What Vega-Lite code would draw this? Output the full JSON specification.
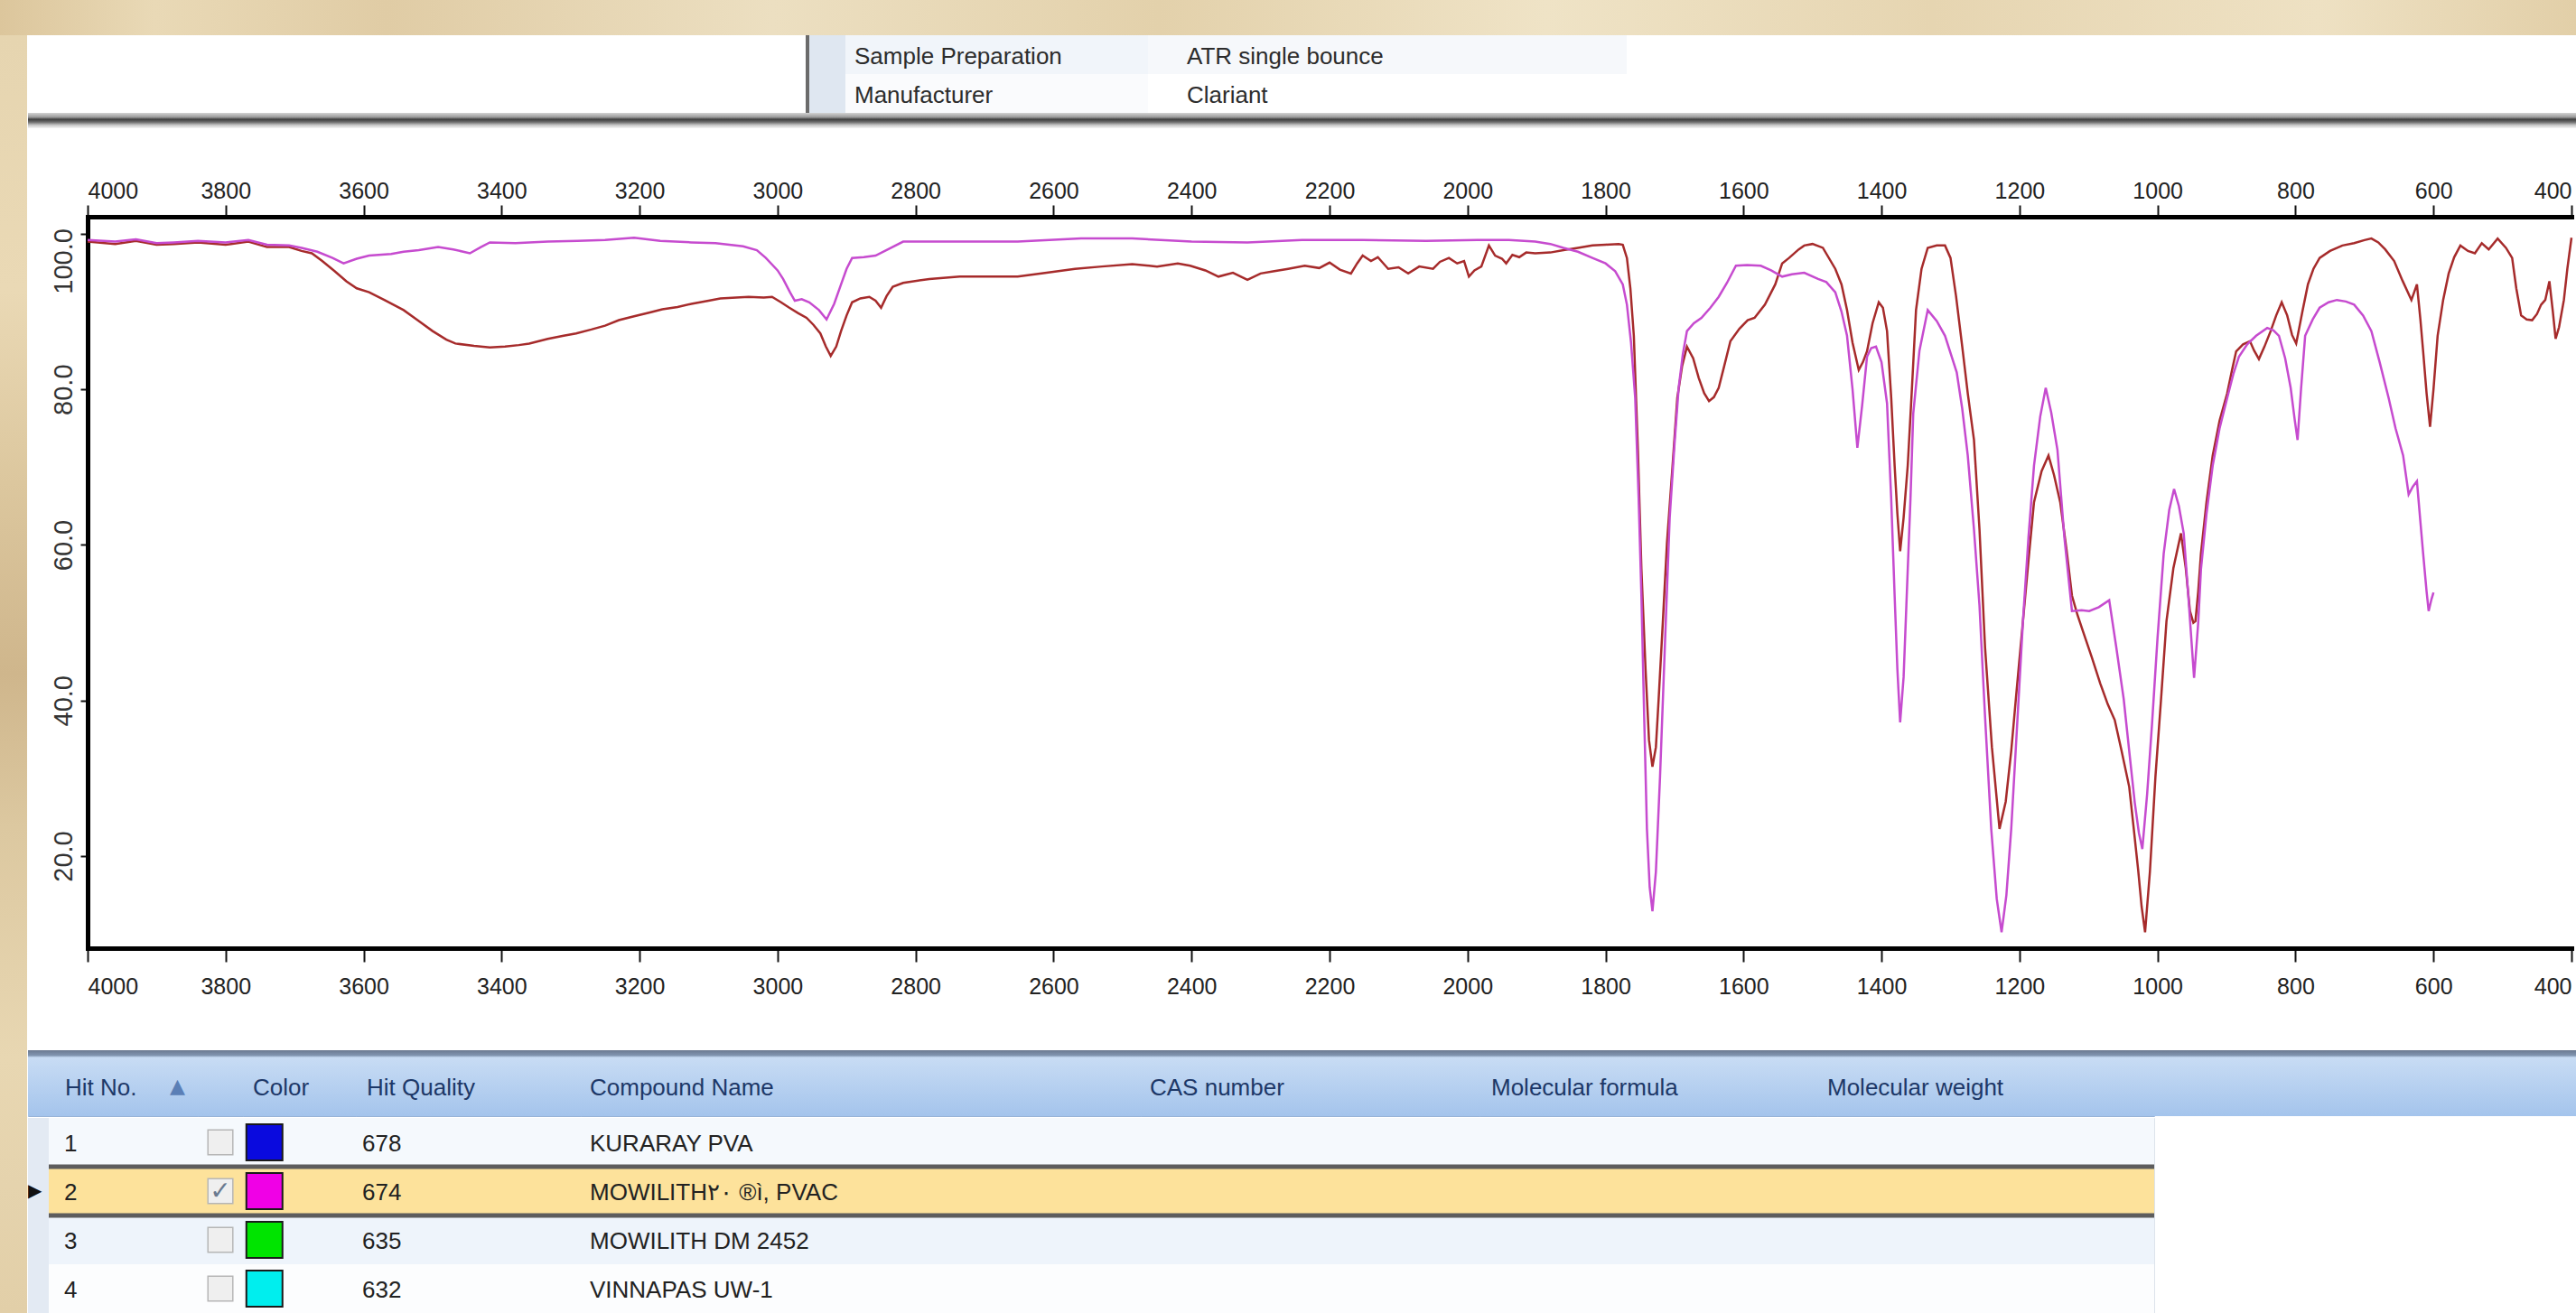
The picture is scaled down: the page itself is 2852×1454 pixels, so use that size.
{
"$schema": "https://vega.github.io/schema/vega-lite/v6.json",
"background": "#ffffff",
"padding": 0,
"config": {"view": {"stroke": null}, "font": "Liberation Sans", "text": {"font": "Liberation Sans"}},
"datasets": {
"hits": [
{"hit": 1, "no": "1", "quality": "678", "name": "KURARAY PVA"},
{"hit": 2, "no": "2", "quality": "674", "name": "MOWILITH٢٠ ®ì, PVAC"},
{"hit": 3, "no": "3", "quality": "635", "name": "MOWILITH DM 2452"},
{"hit": 4, "no": "4", "quality": "632", "name": "VINNAPAS UW-1"}
],
"meta": [
{"r": 1, "k": "Sample Preparation", "v": "ATR single bounce"},
{"r": 2, "k": "Manufacturer", "v": "Clariant"}
],
"spectra": [
{"s":"R","wn":4000,"T":99.0},{"s":"R","wn":3960,"T":98.7},{"s":"R","wn":3930,"T":99.1},{"s":"R","wn":3900,"T":98.6},{"s":"R","wn":3875,"T":98.7},{"s":"R","wn":3840,"T":98.9},{"s":"R","wn":3800,"T":98.6},{"s":"R","wn":3767,"T":99.0},{"s":"R","wn":3740,"T":98.3},{"s":"R","wn":3708,"T":98.3},{"s":"R","wn":3690,"T":97.8},{"s":"R","wn":3675,"T":97.5},{"s":"R","wn":3660,"T":96.5},{"s":"R","wn":3642,"T":95.2},{"s":"R","wn":3625,"T":93.9},{"s":"R","wn":3610,"T":93.0},{"s":"R","wn":3592,"T":92.5},{"s":"R","wn":3570,"T":91.5},{"s":"R","wn":3542,"T":90.2},{"s":"R","wn":3520,"T":88.8},{"s":"R","wn":3500,"T":87.5},{"s":"R","wn":3480,"T":86.4},{"s":"R","wn":3467,"T":85.9},{"s":"R","wn":3440,"T":85.6},{"s":"R","wn":3417,"T":85.4},{"s":"R","wn":3395,"T":85.5},{"s":"R","wn":3375,"T":85.7},{"s":"R","wn":3360,"T":85.9},{"s":"R","wn":3333,"T":86.5},{"s":"R","wn":3310,"T":86.9},{"s":"R","wn":3292,"T":87.2},{"s":"R","wn":3270,"T":87.7},{"s":"R","wn":3250,"T":88.2},{"s":"R","wn":3230,"T":88.9},{"s":"R","wn":3208,"T":89.4},{"s":"R","wn":3185,"T":89.9},{"s":"R","wn":3167,"T":90.3},{"s":"R","wn":3145,"T":90.6},{"s":"R","wn":3125,"T":91.0},{"s":"R","wn":3100,"T":91.4},{"s":"R","wn":3083,"T":91.7},{"s":"R","wn":3060,"T":91.8},{"s":"R","wn":3042,"T":91.9},{"s":"R","wn":3020,"T":91.8},{"s":"R","wn":3008,"T":91.9},{"s":"R","wn":2995,"T":91.2},{"s":"R","wn":2983,"T":90.5},{"s":"R","wn":2970,"T":89.8},{"s":"R","wn":2958,"T":89.2},{"s":"R","wn":2948,"T":88.3},{"s":"R","wn":2938,"T":87.2},{"s":"R","wn":2930,"T":85.5},{"s":"R","wn":2923,"T":84.3},{"s":"R","wn":2915,"T":85.5},{"s":"R","wn":2908,"T":87.5},{"s":"R","wn":2900,"T":89.5},{"s":"R","wn":2892,"T":91.2},{"s":"R","wn":2880,"T":91.7},{"s":"R","wn":2867,"T":91.9},{"s":"R","wn":2858,"T":91.4},{"s":"R","wn":2850,"T":90.5},{"s":"R","wn":2842,"T":92.0},{"s":"R","wn":2833,"T":93.2},{"s":"R","wn":2818,"T":93.7},{"s":"R","wn":2780,"T":94.2},{"s":"R","wn":2736,"T":94.5},{"s":"R","wn":2700,"T":94.5},{"s":"R","wn":2652,"T":94.5},{"s":"R","wn":2610,"T":95.0},{"s":"R","wn":2569,"T":95.5},{"s":"R","wn":2530,"T":95.8},{"s":"R","wn":2486,"T":96.1},{"s":"R","wn":2450,"T":95.8},{"s":"R","wn":2420,"T":96.2},{"s":"R","wn":2402,"T":95.9},{"s":"R","wn":2380,"T":95.3},{"s":"R","wn":2361,"T":94.5},{"s":"R","wn":2340,"T":95.0},{"s":"R","wn":2319,"T":94.1},{"s":"R","wn":2300,"T":94.9},{"s":"R","wn":2280,"T":95.2},{"s":"R","wn":2260,"T":95.5},{"s":"R","wn":2236,"T":95.9},{"s":"R","wn":2215,"T":95.6},{"s":"R","wn":2200,"T":96.3},{"s":"R","wn":2185,"T":95.4},{"s":"R","wn":2169,"T":94.9},{"s":"R","wn":2160,"T":96.2},{"s":"R","wn":2152,"T":97.2},{"s":"R","wn":2140,"T":96.5},{"s":"R","wn":2130,"T":97.0},{"s":"R","wn":2115,"T":95.5},{"s":"R","wn":2100,"T":95.7},{"s":"R","wn":2086,"T":94.9},{"s":"R","wn":2070,"T":95.8},{"s":"R","wn":2050,"T":95.5},{"s":"R","wn":2040,"T":96.4},{"s":"R","wn":2027,"T":96.9},{"s":"R","wn":2015,"T":96.2},{"s":"R","wn":2005,"T":96.5},{"s":"R","wn":1998,"T":94.5},{"s":"R","wn":1990,"T":95.3},{"s":"R","wn":1980,"T":95.8},{"s":"R","wn":1969,"T":98.5},{"s":"R","wn":1960,"T":97.2},{"s":"R","wn":1950,"T":96.8},{"s":"R","wn":1944,"T":96.2},{"s":"R","wn":1935,"T":97.3},{"s":"R","wn":1925,"T":97.0},{"s":"R","wn":1915,"T":97.6},{"s":"R","wn":1902,"T":97.5},{"s":"R","wn":1880,"T":97.6},{"s":"R","wn":1861,"T":97.9},{"s":"R","wn":1840,"T":98.2},{"s":"R","wn":1819,"T":98.5},{"s":"R","wn":1800,"T":98.6},{"s":"R","wn":1781,"T":98.7},{"s":"R","wn":1775,"T":98.6},{"s":"R","wn":1769,"T":96.9},{"s":"R","wn":1764,"T":93.0},{"s":"R","wn":1759,"T":86.9},{"s":"R","wn":1753,"T":72.0},{"s":"R","wn":1748,"T":56.9},{"s":"R","wn":1742,"T":44.0},{"s":"R","wn":1737,"T":34.9},{"s":"R","wn":1732,"T":31.5},{"s":"R","wn":1727,"T":34.0},{"s":"R","wn":1723,"T":40.2},{"s":"R","wn":1717,"T":50.0},{"s":"R","wn":1711,"T":60.2},{"s":"R","wn":1703,"T":70.0},{"s":"R","wn":1696,"T":78.9},{"s":"R","wn":1689,"T":83.0},{"s":"R","wn":1682,"T":85.5},{"s":"R","wn":1673,"T":84.0},{"s":"R","wn":1665,"T":81.5},{"s":"R","wn":1657,"T":79.5},{"s":"R","wn":1650,"T":78.5},{"s":"R","wn":1643,"T":79.0},{"s":"R","wn":1636,"T":80.2},{"s":"R","wn":1628,"T":83.0},{"s":"R","wn":1619,"T":86.2},{"s":"R","wn":1606,"T":87.8},{"s":"R","wn":1594,"T":88.9},{"s":"R","wn":1584,"T":89.2},{"s":"R","wn":1569,"T":90.9},{"s":"R","wn":1554,"T":93.5},{"s":"R","wn":1544,"T":96.2},{"s":"R","wn":1534,"T":96.9},{"s":"R","wn":1520,"T":98.0},{"s":"R","wn":1512,"T":98.5},{"s":"R","wn":1500,"T":98.7},{"s":"R","wn":1485,"T":98.2},{"s":"R","wn":1467,"T":95.5},{"s":"R","wn":1458,"T":93.5},{"s":"R","wn":1450,"T":90.2},{"s":"R","wn":1442,"T":86.0},{"s":"R","wn":1433,"T":82.5},{"s":"R","wn":1427,"T":83.5},{"s":"R","wn":1421,"T":84.9},{"s":"R","wn":1413,"T":88.5},{"s":"R","wn":1404,"T":91.2},{"s":"R","wn":1398,"T":90.5},{"s":"R","wn":1392,"T":87.5},{"s":"R","wn":1386,"T":79.0},{"s":"R","wn":1381,"T":70.2},{"s":"R","wn":1377,"T":64.0},{"s":"R","wn":1373,"T":59.2},{"s":"R","wn":1368,"T":63.5},{"s":"R","wn":1362,"T":70.2},{"s":"R","wn":1356,"T":80.0},{"s":"R","wn":1350,"T":90.2},{"s":"R","wn":1342,"T":95.5},{"s":"R","wn":1333,"T":98.2},{"s":"R","wn":1320,"T":98.5},{"s":"R","wn":1308,"T":98.5},{"s":"R","wn":1300,"T":96.9},{"s":"R","wn":1292,"T":92.0},{"s":"R","wn":1283,"T":85.5},{"s":"R","wn":1275,"T":79.5},{"s":"R","wn":1266,"T":73.5},{"s":"R","wn":1258,"T":62.0},{"s":"R","wn":1250,"T":46.9},{"s":"R","wn":1240,"T":34.0},{"s":"R","wn":1229,"T":23.5},{"s":"R","wn":1220,"T":27.0},{"s":"R","wn":1212,"T":33.5},{"s":"R","wn":1204,"T":41.5},{"s":"R","wn":1195,"T":50.2},{"s":"R","wn":1187,"T":58.0},{"s":"R","wn":1179,"T":65.5},{"s":"R","wn":1168,"T":69.5},{"s":"R","wn":1158,"T":71.5},{"s":"R","wn":1150,"T":69.0},{"s":"R","wn":1141,"T":65.5},{"s":"R","wn":1132,"T":59.5},{"s":"R","wn":1124,"T":53.5},{"s":"R","wn":1116,"T":51.0},{"s":"R","wn":1108,"T":48.9},{"s":"R","wn":1095,"T":45.5},{"s":"R","wn":1083,"T":42.2},{"s":"R","wn":1072,"T":39.5},{"s":"R","wn":1062,"T":37.5},{"s":"R","wn":1052,"T":33.5},{"s":"R","wn":1041,"T":28.9},{"s":"R","wn":1035,"T":24.0},{"s":"R","wn":1028,"T":18.2},{"s":"R","wn":1023,"T":13.5},{"s":"R","wn":1018,"T":10.2},{"s":"R","wn":1011,"T":18.0},{"s":"R","wn":1003,"T":30.2},{"s":"R","wn":995,"T":40.0},{"s":"R","wn":987,"T":50.2},{"s":"R","wn":977,"T":57.0},{"s":"R","wn":966,"T":61.5},{"s":"R","wn":959,"T":57.0},{"s":"R","wn":953,"T":51.5},{"s":"R","wn":948,"T":50.0},{"s":"R","wn":945,"T":50.2},{"s":"R","wn":941,"T":54.0},{"s":"R","wn":937,"T":58.9},{"s":"R","wn":929,"T":65.5},{"s":"R","wn":920,"T":71.5},{"s":"R","wn":910,"T":76.0},{"s":"R","wn":899,"T":79.5},{"s":"R","wn":892,"T":82.5},{"s":"R","wn":886,"T":84.9},{"s":"R","wn":876,"T":85.8},{"s":"R","wn":866,"T":86.2},{"s":"R","wn":860,"T":85.0},{"s":"R","wn":853,"T":83.9},{"s":"R","wn":845,"T":85.5},{"s":"R","wn":836,"T":87.5},{"s":"R","wn":828,"T":89.5},{"s":"R","wn":820,"T":91.2},{"s":"R","wn":812,"T":89.5},{"s":"R","wn":805,"T":87.0},{"s":"R","wn":799,"T":85.9},{"s":"R","wn":790,"T":90.0},{"s":"R","wn":782,"T":93.5},{"s":"R","wn":774,"T":95.5},{"s":"R","wn":765,"T":96.9},{"s":"R","wn":750,"T":97.8},{"s":"R","wn":732,"T":98.5},{"s":"R","wn":715,"T":98.8},{"s":"R","wn":700,"T":99.2},{"s":"R","wn":690,"T":99.4},{"s":"R","wn":680,"T":98.9},{"s":"R","wn":670,"T":98.0},{"s":"R","wn":657,"T":96.5},{"s":"R","wn":645,"T":94.0},{"s":"R","wn":632,"T":91.5},{"s":"R","wn":628,"T":92.5},{"s":"R","wn":624,"T":93.5},{"s":"R","wn":619,"T":89.0},{"s":"R","wn":615,"T":84.9},{"s":"R","wn":610,"T":79.5},{"s":"R","wn":605,"T":75.2},{"s":"R","wn":600,"T":80.0},{"s":"R","wn":594,"T":86.9},{"s":"R","wn":586,"T":91.5},{"s":"R","wn":578,"T":94.9},{"s":"R","wn":570,"T":97.0},{"s":"R","wn":561,"T":98.5},{"s":"R","wn":550,"T":97.8},{"s":"R","wn":540,"T":97.5},{"s":"R","wn":530,"T":98.8},{"s":"R","wn":520,"T":98.0},{"s":"R","wn":507,"T":99.4},{"s":"R","wn":495,"T":98.2},{"s":"R","wn":486,"T":96.9},{"s":"R","wn":480,"T":93.0},{"s":"R","wn":473,"T":89.5},{"s":"R","wn":465,"T":89.0},{"s":"R","wn":457,"T":88.9},{"s":"R","wn":450,"T":89.7},{"s":"R","wn":444,"T":90.9},{"s":"R","wn":438,"T":91.5},{"s":"R","wn":432,"T":93.9},{"s":"R","wn":427,"T":90.0},{"s":"R","wn":423,"T":86.5},{"s":"R","wn":418,"T":88.0},{"s":"R","wn":411,"T":91.5},{"s":"R","wn":406,"T":95.5},{"s":"R","wn":400,"T":99.5},
{"s":"M","wn":4000,"T":99.2},{"s":"M","wn":3960,"T":99.0},{"s":"M","wn":3930,"T":99.3},{"s":"M","wn":3900,"T":98.8},{"s":"M","wn":3875,"T":98.9},{"s":"M","wn":3840,"T":99.1},{"s":"M","wn":3800,"T":98.9},{"s":"M","wn":3767,"T":99.2},{"s":"M","wn":3740,"T":98.6},{"s":"M","wn":3708,"T":98.5},{"s":"M","wn":3690,"T":98.2},{"s":"M","wn":3667,"T":97.7},{"s":"M","wn":3645,"T":96.9},{"s":"M","wn":3629,"T":96.2},{"s":"M","wn":3610,"T":96.8},{"s":"M","wn":3592,"T":97.2},{"s":"M","wn":3560,"T":97.4},{"s":"M","wn":3542,"T":97.7},{"s":"M","wn":3520,"T":97.9},{"s":"M","wn":3492,"T":98.3},{"s":"M","wn":3470,"T":98.0},{"s":"M","wn":3446,"T":97.5},{"s":"M","wn":3430,"T":98.3},{"s":"M","wn":3417,"T":98.9},{"s":"M","wn":3380,"T":98.8},{"s":"M","wn":3333,"T":99.0},{"s":"M","wn":3290,"T":99.1},{"s":"M","wn":3250,"T":99.2},{"s":"M","wn":3208,"T":99.5},{"s":"M","wn":3170,"T":99.1},{"s":"M","wn":3125,"T":98.9},{"s":"M","wn":3090,"T":98.8},{"s":"M","wn":3050,"T":98.4},{"s":"M","wn":3030,"T":97.9},{"s":"M","wn":3017,"T":96.9},{"s":"M","wn":3000,"T":95.3},{"s":"M","wn":2992,"T":94.2},{"s":"M","wn":2982,"T":92.5},{"s":"M","wn":2975,"T":91.4},{"s":"M","wn":2965,"T":91.6},{"s":"M","wn":2954,"T":91.2},{"s":"M","wn":2940,"T":90.2},{"s":"M","wn":2929,"T":89.0},{"s":"M","wn":2918,"T":91.0},{"s":"M","wn":2908,"T":93.5},{"s":"M","wn":2900,"T":95.5},{"s":"M","wn":2892,"T":96.9},{"s":"M","wn":2875,"T":97.0},{"s":"M","wn":2858,"T":97.2},{"s":"M","wn":2840,"T":98.0},{"s":"M","wn":2818,"T":99.0},{"s":"M","wn":2740,"T":99.0},{"s":"M","wn":2652,"T":99.0},{"s":"M","wn":2560,"T":99.4},{"s":"M","wn":2486,"T":99.4},{"s":"M","wn":2400,"T":99.0},{"s":"M","wn":2319,"T":98.9},{"s":"M","wn":2240,"T":99.2},{"s":"M","wn":2152,"T":99.2},{"s":"M","wn":2060,"T":99.1},{"s":"M","wn":1986,"T":99.2},{"s":"M","wn":1940,"T":99.2},{"s":"M","wn":1902,"T":99.0},{"s":"M","wn":1880,"T":98.7},{"s":"M","wn":1861,"T":98.2},{"s":"M","wn":1840,"T":97.7},{"s":"M","wn":1819,"T":96.9},{"s":"M","wn":1800,"T":96.2},{"s":"M","wn":1786,"T":95.2},{"s":"M","wn":1775,"T":93.5},{"s":"M","wn":1769,"T":90.9},{"s":"M","wn":1763,"T":86.0},{"s":"M","wn":1757,"T":78.9},{"s":"M","wn":1752,"T":66.0},{"s":"M","wn":1748,"T":53.5},{"s":"M","wn":1744,"T":38.0},{"s":"M","wn":1740,"T":23.5},{"s":"M","wn":1736,"T":16.0},{"s":"M","wn":1732,"T":12.9},{"s":"M","wn":1727,"T":18.0},{"s":"M","wn":1721,"T":30.2},{"s":"M","wn":1714,"T":47.0},{"s":"M","wn":1707,"T":63.5},{"s":"M","wn":1700,"T":73.0},{"s":"M","wn":1694,"T":80.2},{"s":"M","wn":1688,"T":84.5},{"s":"M","wn":1682,"T":87.5},{"s":"M","wn":1672,"T":88.5},{"s":"M","wn":1661,"T":89.2},{"s":"M","wn":1648,"T":90.5},{"s":"M","wn":1636,"T":91.9},{"s":"M","wn":1624,"T":93.7},{"s":"M","wn":1611,"T":95.9},{"s":"M","wn":1595,"T":96.0},{"s":"M","wn":1575,"T":95.9},{"s":"M","wn":1560,"T":95.3},{"s":"M","wn":1544,"T":94.5},{"s":"M","wn":1530,"T":94.8},{"s":"M","wn":1512,"T":95.0},{"s":"M","wn":1492,"T":94.2},{"s":"M","wn":1480,"T":93.8},{"s":"M","wn":1467,"T":92.5},{"s":"M","wn":1458,"T":90.0},{"s":"M","wn":1450,"T":86.9},{"s":"M","wn":1442,"T":80.0},{"s":"M","wn":1435,"T":72.5},{"s":"M","wn":1428,"T":78.0},{"s":"M","wn":1421,"T":84.2},{"s":"M","wn":1415,"T":85.3},{"s":"M","wn":1408,"T":85.5},{"s":"M","wn":1400,"T":83.5},{"s":"M","wn":1392,"T":78.2},{"s":"M","wn":1386,"T":66.0},{"s":"M","wn":1381,"T":53.5},{"s":"M","wn":1377,"T":44.0},{"s":"M","wn":1373,"T":37.2},{"s":"M","wn":1368,"T":43.0},{"s":"M","wn":1364,"T":52.2},{"s":"M","wn":1358,"T":66.0},{"s":"M","wn":1354,"T":76.9},{"s":"M","wn":1345,"T":85.0},{"s":"M","wn":1333,"T":90.2},{"s":"M","wn":1320,"T":88.8},{"s":"M","wn":1308,"T":86.9},{"s":"M","wn":1291,"T":82.2},{"s":"M","wn":1283,"T":77.5},{"s":"M","wn":1275,"T":71.5},{"s":"M","wn":1266,"T":62.0},{"s":"M","wn":1258,"T":52.2},{"s":"M","wn":1250,"T":38.0},{"s":"M","wn":1241,"T":23.5},{"s":"M","wn":1233,"T":14.5},{"s":"M","wn":1226,"T":10.2},{"s":"M","wn":1219,"T":15.0},{"s":"M","wn":1212,"T":23.5},{"s":"M","wn":1204,"T":36.0},{"s":"M","wn":1195,"T":50.2},{"s":"M","wn":1187,"T":61.0},{"s":"M","wn":1179,"T":70.2},{"s":"M","wn":1170,"T":76.5},{"s":"M","wn":1162,"T":80.2},{"s":"M","wn":1154,"T":77.0},{"s":"M","wn":1145,"T":72.2},{"s":"M","wn":1135,"T":61.0},{"s":"M","wn":1124,"T":51.5},{"s":"M","wn":1110,"T":51.6},{"s":"M","wn":1099,"T":51.5},{"s":"M","wn":1085,"T":52.0},{"s":"M","wn":1070,"T":52.9},{"s":"M","wn":1060,"T":47.0},{"s":"M","wn":1049,"T":40.2},{"s":"M","wn":1041,"T":33.5},{"s":"M","wn":1033,"T":26.9},{"s":"M","wn":1027,"T":23.0},{"s":"M","wn":1022,"T":20.9},{"s":"M","wn":1015,"T":28.0},{"s":"M","wn":1008,"T":36.9},{"s":"M","wn":1000,"T":48.0},{"s":"M","wn":991,"T":58.9},{"s":"M","wn":983,"T":64.5},{"s":"M","wn":976,"T":67.2},{"s":"M","wn":969,"T":65.0},{"s":"M","wn":962,"T":61.5},{"s":"M","wn":955,"T":53.0},{"s":"M","wn":947,"T":42.9},{"s":"M","wn":941,"T":50.0},{"s":"M","wn":937,"T":56.9},{"s":"M","wn":929,"T":64.0},{"s":"M","wn":920,"T":70.2},{"s":"M","wn":910,"T":75.0},{"s":"M","wn":899,"T":78.9},{"s":"M","wn":890,"T":82.0},{"s":"M","wn":882,"T":84.2},{"s":"M","wn":870,"T":85.8},{"s":"M","wn":857,"T":86.9},{"s":"M","wn":841,"T":87.9},{"s":"M","wn":832,"T":87.6},{"s":"M","wn":824,"T":86.9},{"s":"M","wn":815,"T":84.0},{"s":"M","wn":807,"T":80.2},{"s":"M","wn":801,"T":76.0},{"s":"M","wn":797,"T":73.5},{"s":"M","wn":792,"T":80.0},{"s":"M","wn":786,"T":86.9},{"s":"M","wn":775,"T":89.0},{"s":"M","wn":765,"T":90.5},{"s":"M","wn":752,"T":91.2},{"s":"M","wn":740,"T":91.5},{"s":"M","wn":727,"T":91.3},{"s":"M","wn":715,"T":90.9},{"s":"M","wn":702,"T":89.5},{"s":"M","wn":690,"T":87.5},{"s":"M","wn":678,"T":83.5},{"s":"M","wn":665,"T":78.9},{"s":"M","wn":655,"T":75.0},{"s":"M","wn":644,"T":71.5},{"s":"M","wn":636,"T":66.5},{"s":"M","wn":630,"T":67.5},{"s":"M","wn":624,"T":68.2},{"s":"M","wn":619,"T":63.0},{"s":"M","wn":615,"T":58.9},{"s":"M","wn":610,"T":54.0},{"s":"M","wn":607,"T":51.5},{"s":"M","wn":603,"T":53.0},{"s":"M","wn":600,"T":53.9}
]
},
"spacing": 0,
"resolve": {"scale": {"color": "independent", "fill": "independent"}},
"vconcat": [
{"width": 2852, "height": 39, "data": {"values": [{}]},
 "mark": {"type": "rect", "color": {"gradient": "linear", "x1": 0, "y1": 0, "x2": 1, "y2": 0, "stops": [{"offset": 0, "color": "#dcc69c"}, {"offset": 0.06, "color": "#e9d9b6"}, {"offset": 0.15, "color": "#e0cca5"}, {"offset": 0.3, "color": "#ecdfc1"}, {"offset": 0.45, "color": "#e3d1ab"}, {"offset": 0.6, "color": "#efe3c6"}, {"offset": 0.75, "color": "#e6d5b1"}, {"offset": 0.9, "color": "#eee1c3"}, {"offset": 1, "color": "#e2cfa8"}]}}},
{
"spacing": 0,
"resolve": {"scale": {"color": "independent", "fill": "independent"}},
"hconcat": [
{"width": 30, "height": 1415, "data": {"values": [{}]},
 "mark": {"type": "rect", "color": {"gradient": "linear", "x1": 0, "y1": 0, "x2": 0, "y2": 1, "stops": [{"offset": 0, "color": "#e6d5b0"}, {"offset": 0.2, "color": "#ead9b5"}, {"offset": 0.35, "color": "#dcc79e"}, {"offset": 0.5, "color": "#cfb68c"}, {"offset": 0.62, "color": "#dcc8a0"}, {"offset": 0.8, "color": "#e8d7b2"}, {"offset": 1, "color": "#e2cfa8"}]}}},
{
"spacing": 57,
"resolve": {"scale": {"color": "independent", "fill": "independent"}},
"vconcat": [
{
"spacing": 0,
"resolve": {"scale": {"color": "independent", "fill": "independent"}},
"vconcat": [
{
"spacing": 0, "bounds": "flush",
"resolve": {"scale": {"color": "independent", "fill": "independent"}},
"hconcat": [
{"width": 861, "height": 86, "data": {"values": []}, "mark": "point"},
{"width": 4, "height": 86, "data": {"values": [{}]}, "mark": {"type": "rect", "color": "#6b6b6b"}},
{"width": 40, "height": 86, "data": {"values": [{}]}, "mark": {"type": "rect", "color": "#dfe7f1"}},
{"width": 335, "height": 86, "data": {"name": "meta"},
 "layer": [
  {"mark": "rect", "encoding": {"y": {"field": "r", "type": "ordinal", "scale": {"type": "band", "domain": [1, 2], "paddingInner": 0, "paddingOuter": 0}, "axis": null}, "fill": {"field": "r", "type": "ordinal", "scale": {"domain": [1, 2], "range": ["#f1f5fa", "#fafbfd"]}, "legend": null}}},
  {"mark": {"type": "text", "align": "left", "baseline": "middle", "dx": 10, "dy": 2, "fontSize": 26, "color": "#2c2c2c", "clip": true},
   "encoding": {"y": {"field": "r", "type": "ordinal", "scale": {"type": "band", "domain": [1, 2], "paddingInner": 0, "paddingOuter": 0}, "axis": null}, "x": {"datum": "c", "type": "nominal", "scale": {"type": "band", "paddingInner": 0, "paddingOuter": 0}, "axis": null, "bandPosition": 0}, "text": {"field": "k"}}}
 ]},
{"width": 530, "height": 86, "data": {"name": "meta"},
 "layer": [
  {"mark": "rect", "encoding": {"y": {"field": "r", "type": "ordinal", "scale": {"type": "band", "domain": [1, 2], "paddingInner": 0, "paddingOuter": 0}, "axis": null}, "fill": {"field": "r", "type": "ordinal", "scale": {"domain": [1, 2], "range": ["#f6f8fb", "#ffffff"]}, "legend": null}}},
  {"mark": {"type": "text", "align": "left", "baseline": "middle", "dx": 43, "dy": 2, "fontSize": 26, "color": "#2c2c2c", "clip": true},
   "encoding": {"y": {"field": "r", "type": "ordinal", "scale": {"type": "band", "domain": [1, 2], "paddingInner": 0, "paddingOuter": 0}, "axis": null}, "x": {"datum": "c", "type": "nominal", "scale": {"type": "band", "paddingInner": 0, "paddingOuter": 0}, "axis": null, "bandPosition": 0}, "text": {"field": "v"}}}
 ]},
{"width": 1052, "height": 86, "data": {"values": []}, "mark": "point"}
]
},
{"width": 2822, "height": 17, "data": {"values": [{}]},
 "mark": {"type": "rect", "color": {"gradient": "linear", "x1": 0, "y1": 0, "x2": 0, "y2": 1, "stops": [{"offset": 0, "color": "#d2d2d2"}, {"offset": 0.28, "color": "#9a9a9a"}, {"offset": 0.42, "color": "#3e3e3e"}, {"offset": 0.6, "color": "#6e6e6e"}, {"offset": 0.8, "color": "#c8c8c8"}, {"offset": 1, "color": "#f6f6f6"}]}}}
]
},
{
"spacing": 0, "bounds": "flush",
"resolve": {"scale": {"color": "independent", "fill": "independent"}},
"hconcat": [
{"width": 66, "height": 810, "data": {"values": []}, "mark": "point"},
{
"width": 2750, "height": 810,
"data": {"name": "spectra"},
"encoding": {
 "y": {"field": "T", "type": "quantitative", "scale": {"domain": [8.16, 102.2], "nice": false, "zero": false},
  "axis": {"orient": "left", "values": [20, 40, 60, 80, 100], "format": ".1f", "title": null, "grid": false, "labelAngle": 270, "labelFontSize": 29, "labelFont": "Liberation Sans", "labelColor": "#333333", "tickSize": 8, "tickWidth": 2, "tickColor": "#111111", "domainWidth": 5, "domainColor": "#000000", "domainCap": "square", "labelPadding": 4, "labelOffset": {"condition": {"test": "datum.value == 100", "value": 30}, "value": 0}}},
 "color": {"field": "s", "type": "nominal", "scale": {"domain": ["R", "M"], "range": ["#a62b2b", "#c64bcf"]}, "legend": null}
},
"layer": [
 {"transform": [{"filter": "datum.s == 'R'"}], "mark": {"type": "line", "strokeWidth": 2.5},
  "encoding": {"x": {"field": "wn", "type": "quantitative", "scale": {"domain": [400, 4000], "reverse": true, "nice": false, "zero": false},
   "axis": {"orient": "bottom", "values": [400, 600, 800, 1000, 1200, 1400, 1600, 1800, 2000, 2200, 2400, 2600, 2800, 3000, 3200, 3400, 3600, 3800, 4000], "format": "d", "title": null, "grid": false, "labelFlush": true, "labelOverlap": false, "labelFontSize": 25, "labelFont": "Liberation Sans", "labelColor": "#222222", "tickSize": 15, "tickWidth": 2, "tickColor": "#111111", "domainWidth": 5, "domainColor": "#000000", "domainCap": "square", "labelPadding": 15}}}},
 {"transform": [{"filter": "datum.s == 'M'"}], "mark": {"type": "line", "strokeWidth": 2.5},
  "encoding": {"x": {"field": "wn", "type": "quantitative", "scale": {"domain": [400, 4000], "reverse": true, "nice": false, "zero": false},
   "axis": {"orient": "top", "values": [400, 600, 800, 1000, 1200, 1400, 1600, 1800, 2000, 2200, 2400, 2600, 2800, 3000, 3200, 3400, 3600, 3800, 4000], "format": "d", "title": null, "grid": false, "labelFlush": true, "labelOverlap": false, "labelFontSize": 25, "labelFont": "Liberation Sans", "labelColor": "#222222", "tickSize": 13, "tickWidth": 2, "tickColor": "#111111", "domainWidth": 5, "domainColor": "#000000", "domainCap": "square", "labelPadding": 3}}}}
],
"resolve": {"axis": {"x": "independent"}}
}
]
},
{
"spacing": 0,
"resolve": {"scale": {"color": "independent", "fill": "independent"}},
"vconcat": [
{
"spacing": 0, "bounds": "flush",
"resolve": {"scale": {"color": "independent", "fill": "independent"}},
"hconcat": [
{"width": 188, "height": 73, "data": {"values": [{"t": "Hit No."}]}, "view": {"stroke": "#97b2d6"},
 "layer": [
  {"mark": {"type": "rect", "color": {"gradient": "linear", "x1": 0, "y1": 0, "x2": 0, "y2": 1, "stops": [{"offset": 0, "color": "#6b7990"}, {"offset": 0.08, "color": "#8195b0"}, {"offset": 0.11, "color": "#c8dcf4"}, {"offset": 1, "color": "#a4c4ec"}]}}},
  {"mark": {"type": "text", "align": "left", "baseline": "middle", "dx": 41, "dy": 5, "fontSize": 26, "color": "#1d3868"}, "encoding": {"x": {"datum": "c", "type": "nominal", "scale": {"type": "band", "paddingInner": 0, "paddingOuter": 0}, "axis": null, "bandPosition": 0}, "text": {"field": "t"}}},
  {"mark": {"type": "text", "align": "left", "baseline": "middle", "dx": 157, "dy": 3, "fontSize": 22, "font": "DejaVu Sans", "color": "#5b7fb6", "text": "▲"}, "encoding": {"x": {"datum": "c", "type": "nominal", "scale": {"type": "band", "paddingInner": 0, "paddingOuter": 0}, "axis": null, "bandPosition": 0}}}
 ]},
{"width": 50, "height": 73, "data": {"values": [{"t": ""}]}, "view": {"stroke": "#97b2d6"},
 "layer": [
  {"mark": {"type": "rect", "color": {"gradient": "linear", "x1": 0, "y1": 0, "x2": 0, "y2": 1, "stops": [{"offset": 0, "color": "#6b7990"}, {"offset": 0.08, "color": "#8195b0"}, {"offset": 0.11, "color": "#c8dcf4"}, {"offset": 1, "color": "#a4c4ec"}]}}}
 ]},
{"width": 125, "height": 73, "data": {"values": [{"t": "Color"}]}, "view": {"stroke": "#97b2d6"},
 "layer": [
  {"mark": {"type": "rect", "color": {"gradient": "linear", "x1": 0, "y1": 0, "x2": 0, "y2": 1, "stops": [{"offset": 0, "color": "#6b7990"}, {"offset": 0.08, "color": "#8195b0"}, {"offset": 0.11, "color": "#c8dcf4"}, {"offset": 1, "color": "#a4c4ec"}]}}},
  {"mark": {"type": "text", "align": "left", "baseline": "middle", "dx": 11, "dy": 5, "fontSize": 26, "color": "#1d3868"}, "encoding": {"x": {"datum": "c", "type": "nominal", "scale": {"type": "band", "paddingInner": 0, "paddingOuter": 0}, "axis": null, "bandPosition": 0}, "text": {"field": "t"}}}
 ]},
{"width": 249, "height": 73, "data": {"values": [{"t": "Hit Quality"}]}, "view": {"stroke": "#97b2d6"},
 "layer": [
  {"mark": {"type": "rect", "color": {"gradient": "linear", "x1": 0, "y1": 0, "x2": 0, "y2": 1, "stops": [{"offset": 0, "color": "#6b7990"}, {"offset": 0.08, "color": "#8195b0"}, {"offset": 0.11, "color": "#c8dcf4"}, {"offset": 1, "color": "#a4c4ec"}]}}},
  {"mark": {"type": "text", "align": "left", "baseline": "middle", "dx": 12, "dy": 5, "fontSize": 26, "color": "#1d3868"}, "encoding": {"x": {"datum": "c", "type": "nominal", "scale": {"type": "band", "paddingInner": 0, "paddingOuter": 0}, "axis": null, "bandPosition": 0}, "text": {"field": "t"}}}
 ]},
{"width": 620, "height": 73, "data": {"values": [{"t": "Compound Name"}]}, "view": {"stroke": "#97b2d6"},
 "layer": [
  {"mark": {"type": "rect", "color": {"gradient": "linear", "x1": 0, "y1": 0, "x2": 0, "y2": 1, "stops": [{"offset": 0, "color": "#6b7990"}, {"offset": 0.08, "color": "#8195b0"}, {"offset": 0.11, "color": "#c8dcf4"}, {"offset": 1, "color": "#a4c4ec"}]}}},
  {"mark": {"type": "text", "align": "left", "baseline": "middle", "dx": 10, "dy": 5, "fontSize": 26, "color": "#1d3868"}, "encoding": {"x": {"datum": "c", "type": "nominal", "scale": {"type": "band", "paddingInner": 0, "paddingOuter": 0}, "axis": null, "bandPosition": 0}, "text": {"field": "t"}}}
 ]},
{"width": 375, "height": 73, "data": {"values": [{"t": "CAS number"}]}, "view": {"stroke": "#97b2d6"},
 "layer": [
  {"mark": {"type": "rect", "color": {"gradient": "linear", "x1": 0, "y1": 0, "x2": 0, "y2": 1, "stops": [{"offset": 0, "color": "#6b7990"}, {"offset": 0.08, "color": "#8195b0"}, {"offset": 0.11, "color": "#c8dcf4"}, {"offset": 1, "color": "#a4c4ec"}]}}},
  {"mark": {"type": "text", "align": "left", "baseline": "middle", "dx": 10, "dy": 5, "fontSize": 26, "color": "#1d3868"}, "encoding": {"x": {"datum": "c", "type": "nominal", "scale": {"type": "band", "paddingInner": 0, "paddingOuter": 0}, "axis": null, "bandPosition": 0}, "text": {"field": "t"}}}
 ]},
{"width": 374, "height": 73, "data": {"values": [{"t": "Molecular formula"}]}, "view": {"stroke": "#97b2d6"},
 "layer": [
  {"mark": {"type": "rect", "color": {"gradient": "linear", "x1": 0, "y1": 0, "x2": 0, "y2": 1, "stops": [{"offset": 0, "color": "#6b7990"}, {"offset": 0.08, "color": "#8195b0"}, {"offset": 0.11, "color": "#c8dcf4"}, {"offset": 1, "color": "#a4c4ec"}]}}},
  {"mark": {"type": "text", "align": "left", "baseline": "middle", "dx": 13, "dy": 5, "fontSize": 26, "color": "#1d3868"}, "encoding": {"x": {"datum": "c", "type": "nominal", "scale": {"type": "band", "paddingInner": 0, "paddingOuter": 0}, "axis": null, "bandPosition": 0}, "text": {"field": "t"}}}
 ]},
{"width": 373, "height": 73, "data": {"values": [{"t": "Molecular weight"}]}, "view": {"stroke": "#97b2d6"},
 "layer": [
  {"mark": {"type": "rect", "color": {"gradient": "linear", "x1": 0, "y1": 0, "x2": 0, "y2": 1, "stops": [{"offset": 0, "color": "#6b7990"}, {"offset": 0.08, "color": "#8195b0"}, {"offset": 0.11, "color": "#c8dcf4"}, {"offset": 1, "color": "#a4c4ec"}]}}},
  {"mark": {"type": "text", "align": "left", "baseline": "middle", "dx": 11, "dy": 5, "fontSize": 26, "color": "#1d3868"}, "encoding": {"x": {"datum": "c", "type": "nominal", "scale": {"type": "band", "paddingInner": 0, "paddingOuter": 0}, "axis": null, "bandPosition": 0}, "text": {"field": "t"}}}
 ]},
{"width": 468, "height": 73, "data": {"values": [{"t": ""}]},
 "layer": [
  {"mark": {"type": "rect", "color": {"gradient": "linear", "x1": 0, "y1": 0, "x2": 0, "y2": 1, "stops": [{"offset": 0, "color": "#6b7990"}, {"offset": 0.08, "color": "#8195b0"}, {"offset": 0.11, "color": "#c8dcf4"}, {"offset": 1, "color": "#a4c4ec"}]}}}
 ]}
]
},
{
"spacing": 0, "bounds": "flush",
"resolve": {"scale": {"color": "independent", "fill": "independent"}},
"hconcat": [
{"width": 23, "height": 216, "data": {"name": "hits"}, "view": {"fill": "#e3eaf3"},
 "transform": [{"filter": "datum.hit == 2"}],
 "mark": {"type": "text", "align": "left", "baseline": "middle", "dx": 0, "fontSize": 20, "font": "DejaVu Sans", "color": "#111111", "text": "▶"},
 "encoding": {"y": {"field": "hit", "type": "ordinal", "scale": {"type": "band", "domain": [1, 2, 3, 4], "paddingInner": 0, "paddingOuter": 0}, "axis": null}, "x": {"datum": "c", "type": "nominal", "scale": {"type": "band", "paddingInner": 0, "paddingOuter": 0}, "axis": null, "bandPosition": 0}}},
{"width": 165, "height": 216, "data": {"name": "hits"}, "view": {"stroke": "#dde3eb"},
 "encoding": {"y": {"field": "hit", "type": "ordinal", "scale": {"type": "band", "domain": [1, 2, 3, 4], "paddingInner": 0, "paddingOuter": 0}, "axis": null}},
 "layer": [
  {"mark": "rect", "encoding": {"fill": {"field": "hit", "type": "ordinal", "scale": {"domain": [1, 2, 3, 4], "range": ["#f5f9fd", "#fde29b", "#eef4fb", "#fcfdfe"]}, "legend": null}}},
  {"mark": {"type": "text", "align": "left", "baseline": "middle", "dx": 17, "dy": 2, "fontSize": 26, "color": "#222222"}, "encoding": {"x": {"datum": "c", "type": "nominal", "scale": {"type": "band", "paddingInner": 0, "paddingOuter": 0}, "axis": null, "bandPosition": 0}, "text": {"field": "no"}}},
  {"transform": [{"filter": "datum.hit == 2"}], "mark": {"type": "rule", "color": "#5d5d5d", "strokeWidth": 5}, "encoding": {"y": {"field": "hit", "type": "ordinal", "bandPosition": 0}}},
  {"transform": [{"filter": "datum.hit == 2"}], "mark": {"type": "rule", "color": "#5d5d5d", "strokeWidth": 5}, "encoding": {"y": {"field": "hit", "type": "ordinal", "bandPosition": 1}}}
 ]},
{"width": 50, "height": 216, "data": {"name": "hits"}, "view": {"stroke": "#dde3eb"},
 "encoding": {"y": {"field": "hit", "type": "ordinal", "scale": {"type": "band", "domain": [1, 2, 3, 4], "paddingInner": 0, "paddingOuter": 0}, "axis": null}},
 "layer": [
  {"mark": "rect", "encoding": {"fill": {"field": "hit", "type": "ordinal", "scale": {"domain": [1, 2, 3, 4], "range": ["#f5f9fd", "#fde29b", "#eef4fb", "#fcfdfe"]}, "legend": null}}},
  {"mark": {"type": "point", "shape": "square", "filled": true, "size": 760, "fill": "#efefef", "stroke": "#b6b6b6", "strokeWidth": 1.5, "opacity": 1}},
  {"transform": [{"filter": "datum.hit == 2"}], "mark": {"type": "text", "baseline": "middle", "fontSize": 28, "font": "DejaVu Sans", "color": "#6a7a90", "text": "✓", "dy": 1}},
  {"transform": [{"filter": "datum.hit == 2"}], "mark": {"type": "rule", "color": "#5d5d5d", "strokeWidth": 5}, "encoding": {"y": {"field": "hit", "type": "ordinal", "bandPosition": 0}}},
  {"transform": [{"filter": "datum.hit == 2"}], "mark": {"type": "rule", "color": "#5d5d5d", "strokeWidth": 5}, "encoding": {"y": {"field": "hit", "type": "ordinal", "bandPosition": 1}}}
 ]},
{"width": 125, "height": 216, "data": {"name": "hits"}, "view": {"stroke": "#dde3eb"},
 "encoding": {"y": {"field": "hit", "type": "ordinal", "scale": {"type": "band", "domain": [1, 2, 3, 4], "paddingInner": 0, "paddingOuter": 0}, "axis": null}},
 "layer": [
  {"mark": "rect", "encoding": {"fill": {"field": "hit", "type": "ordinal", "scale": {"domain": [1, 2, 3, 4], "range": ["#f5f9fd", "#fde29b", "#eef4fb", "#fcfdfe"]}, "legend": null}}},
  {"mark": {"type": "point", "shape": "square", "filled": true, "size": 1600, "stroke": "#1a1a1a", "strokeWidth": 2, "opacity": 1},
   "encoding": {"x": {"datum": "c", "type": "nominal", "scale": {"type": "band", "paddingInner": 0, "paddingOuter": 0}, "axis": null, "bandPosition": 0.19}, "color": {"field": "hit", "type": "ordinal", "scale": {"domain": [1, 2, 3, 4], "range": ["#0a0ade", "#f000e6", "#00e400", "#00eeee"]}, "legend": null}}},
  {"transform": [{"filter": "datum.hit == 2"}], "mark": {"type": "rule", "color": "#5d5d5d", "strokeWidth": 5}, "encoding": {"y": {"field": "hit", "type": "ordinal", "bandPosition": 0}}},
  {"transform": [{"filter": "datum.hit == 2"}], "mark": {"type": "rule", "color": "#5d5d5d", "strokeWidth": 5}, "encoding": {"y": {"field": "hit", "type": "ordinal", "bandPosition": 1}}}
 ]},
{"width": 249, "height": 216, "data": {"name": "hits"}, "view": {"stroke": "#dde3eb"},
 "encoding": {"y": {"field": "hit", "type": "ordinal", "scale": {"type": "band", "domain": [1, 2, 3, 4], "paddingInner": 0, "paddingOuter": 0}, "axis": null}},
 "layer": [
  {"mark": "rect", "encoding": {"fill": {"field": "hit", "type": "ordinal", "scale": {"domain": [1, 2, 3, 4], "range": ["#f5f9fd", "#fde29b", "#eef4fb", "#fcfdfe"]}, "legend": null}}},
  {"mark": {"type": "text", "align": "left", "baseline": "middle", "dx": 7, "dy": 2, "fontSize": 26, "color": "#222222"}, "encoding": {"x": {"datum": "c", "type": "nominal", "scale": {"type": "band", "paddingInner": 0, "paddingOuter": 0}, "axis": null, "bandPosition": 0}, "text": {"field": "quality"}}},
  {"transform": [{"filter": "datum.hit == 2"}], "mark": {"type": "rule", "color": "#5d5d5d", "strokeWidth": 5}, "encoding": {"y": {"field": "hit", "type": "ordinal", "bandPosition": 0}}},
  {"transform": [{"filter": "datum.hit == 2"}], "mark": {"type": "rule", "color": "#5d5d5d", "strokeWidth": 5}, "encoding": {"y": {"field": "hit", "type": "ordinal", "bandPosition": 1}}}
 ]},
{"width": 620, "height": 216, "data": {"name": "hits"}, "view": {"stroke": "#dde3eb"},
 "encoding": {"y": {"field": "hit", "type": "ordinal", "scale": {"type": "band", "domain": [1, 2, 3, 4], "paddingInner": 0, "paddingOuter": 0}, "axis": null}},
 "layer": [
  {"mark": "rect", "encoding": {"fill": {"field": "hit", "type": "ordinal", "scale": {"domain": [1, 2, 3, 4], "range": ["#f5f9fd", "#fde29b", "#eef4fb", "#fcfdfe"]}, "legend": null}}},
  {"mark": {"type": "text", "align": "left", "baseline": "middle", "dx": 10, "dy": 2, "fontSize": 26, "color": "#222222"}, "encoding": {"x": {"datum": "c", "type": "nominal", "scale": {"type": "band", "paddingInner": 0, "paddingOuter": 0}, "axis": null, "bandPosition": 0}, "text": {"field": "name"}}},
  {"transform": [{"filter": "datum.hit == 2"}], "mark": {"type": "rule", "color": "#5d5d5d", "strokeWidth": 5}, "encoding": {"y": {"field": "hit", "type": "ordinal", "bandPosition": 0}}},
  {"transform": [{"filter": "datum.hit == 2"}], "mark": {"type": "rule", "color": "#5d5d5d", "strokeWidth": 5}, "encoding": {"y": {"field": "hit", "type": "ordinal", "bandPosition": 1}}}
 ]},
{"width": 375, "height": 216, "data": {"name": "hits"}, "view": {"stroke": "#dde3eb"},
 "encoding": {"y": {"field": "hit", "type": "ordinal", "scale": {"type": "band", "domain": [1, 2, 3, 4], "paddingInner": 0, "paddingOuter": 0}, "axis": null}},
 "layer": [
  {"mark": "rect", "encoding": {"fill": {"field": "hit", "type": "ordinal", "scale": {"domain": [1, 2, 3, 4], "range": ["#f5f9fd", "#fde29b", "#eef4fb", "#fcfdfe"]}, "legend": null}}},
  {"transform": [{"filter": "datum.hit == 2"}], "mark": {"type": "rule", "color": "#5d5d5d", "strokeWidth": 5}, "encoding": {"y": {"field": "hit", "type": "ordinal", "bandPosition": 0}}},
  {"transform": [{"filter": "datum.hit == 2"}], "mark": {"type": "rule", "color": "#5d5d5d", "strokeWidth": 5}, "encoding": {"y": {"field": "hit", "type": "ordinal", "bandPosition": 1}}}
 ]},
{"width": 374, "height": 216, "data": {"name": "hits"}, "view": {"stroke": "#dde3eb"},
 "encoding": {"y": {"field": "hit", "type": "ordinal", "scale": {"type": "band", "domain": [1, 2, 3, 4], "paddingInner": 0, "paddingOuter": 0}, "axis": null}},
 "layer": [
  {"mark": "rect", "encoding": {"fill": {"field": "hit", "type": "ordinal", "scale": {"domain": [1, 2, 3, 4], "range": ["#f5f9fd", "#fde29b", "#eef4fb", "#fcfdfe"]}, "legend": null}}},
  {"transform": [{"filter": "datum.hit == 2"}], "mark": {"type": "rule", "color": "#5d5d5d", "strokeWidth": 5}, "encoding": {"y": {"field": "hit", "type": "ordinal", "bandPosition": 0}}},
  {"transform": [{"filter": "datum.hit == 2"}], "mark": {"type": "rule", "color": "#5d5d5d", "strokeWidth": 5}, "encoding": {"y": {"field": "hit", "type": "ordinal", "bandPosition": 1}}}
 ]},
{"width": 373, "height": 216, "data": {"name": "hits"}, "view": {"stroke": "#dde3eb"},
 "encoding": {"y": {"field": "hit", "type": "ordinal", "scale": {"type": "band", "domain": [1, 2, 3, 4], "paddingInner": 0, "paddingOuter": 0}, "axis": null}},
 "layer": [
  {"mark": "rect", "encoding": {"fill": {"field": "hit", "type": "ordinal", "scale": {"domain": [1, 2, 3, 4], "range": ["#f5f9fd", "#fde29b", "#eef4fb", "#fcfdfe"]}, "legend": null}}},
  {"transform": [{"filter": "datum.hit == 2"}], "mark": {"type": "rule", "color": "#5d5d5d", "strokeWidth": 5}, "encoding": {"y": {"field": "hit", "type": "ordinal", "bandPosition": 0}}},
  {"transform": [{"filter": "datum.hit == 2"}], "mark": {"type": "rule", "color": "#5d5d5d", "strokeWidth": 5}, "encoding": {"y": {"field": "hit", "type": "ordinal", "bandPosition": 1}}}
 ]},
{"width": 468, "height": 216, "data": {"values": []}, "mark": "point"}
]
}
]
}
]
}
]
}
]
}
